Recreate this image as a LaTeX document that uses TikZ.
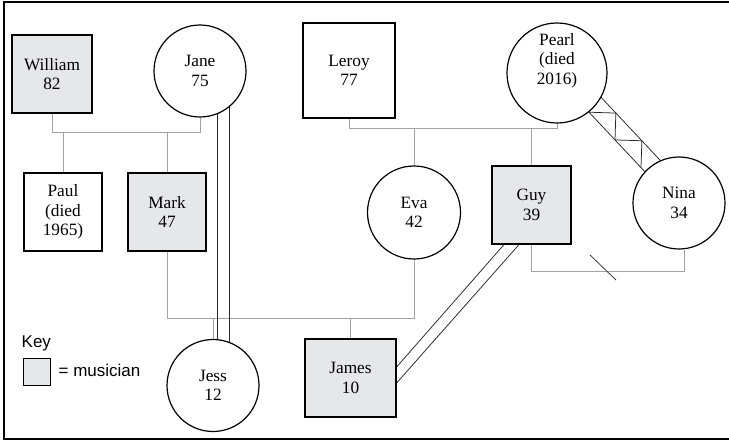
\documentclass[tikz,border=0pt]{standalone}
\usepackage{fontspec}
\setmainfont{Liberation Serif}
\newfontfamily\keyfont{Liberation Sans}
\usetikzlibrary{calc,backgrounds}
\definecolor{musicfill}{HTML}{E6E7E9}
\definecolor{kingray}{HTML}{A3A3A3}
\begin{document}
\begin{tikzpicture}[x=1pt,y=-1pt,
  person/.style={draw=black, line width=1.2pt, align=center, inner sep=0pt,
                 font=\fontsize{17.3}{19.6}\selectfont},
  square/.style={person, rectangle, fill=white},
  musician/.style={fill=musicfill},
  disc/.style={person, circle, fill=white, minimum size=92pt},
  kin/.style={draw=kingray, line width=0.8pt},
  bond/.style={draw=black!85, line width=0.75pt},
  keytext/.style={font=\keyfont\fontsize{17}{20}\selectfont, inner sep=0pt, anchor=base west},
]
\useasboundingbox (0,0) rectangle (729,441);
% frame, open on the right
\draw[line width=1.2pt] (731,2) -- (4,2) -- (4,439) -- (731,439);

% people
\node[square, musician, minimum width=80pt, minimum height=78pt] (William) at (52,74) {William\\82};
\node[disc] (Jane) at (200,71) {Jane\\75};
\node[square, minimum width=92pt, minimum height=95pt] (Leroy) at (349,70.5) {Leroy\\77};
\node[disc, minimum size=100pt] (Pearl) at (557,73) {};
\node[font=\fontsize{17.3}{19.6}\selectfont, align=center, inner sep=0pt] (PearlText)
  at ([yshift=12.5pt]Pearl.center) {Pearl\\(died\\2016)};
\node[square, minimum width=78pt, minimum height=78pt] (Paul) at (63,212) {Paul\\(died\\1965)};
\node[square, musician, minimum width=78pt, minimum height=78pt] (Mark) at (167,212) {Mark\\47};
\node[disc, minimum size=93pt] (Eva) at (414,212.5) {Eva\\42};
\node[square, musician, minimum width=79pt, minimum height=78pt] (Guy) at (531.5,205) {Guy\\39};
\node[disc] (Nina) at (679,203) {Nina\\34};
\node[disc] (Jess) at (213,385.5) {Jess\\12};
\node[square, musician, minimum width=91pt, minimum height=78pt] (James) at (350.5,378) {James\\10};

% key
\node[keytext] (KeyTitle) at (21.5,347) {Key};
\node[draw, line width=1.2pt, fill=musicfill, minimum size=27pt, inner sep=0pt] (KeySwatch) at (36.7,371.7) {};
\node[keytext] (KeyText) at (58.5,376.5) {= musician};

\begin{scope}[on background layer]
  % couple bars and child drops
  \coordinate (wjbar) at (0,132);
  \draw[kin] (William.south) -- (William.south |- wjbar) -- (Jane.south |- wjbar) -- (Jane.south);
  \draw[kin] (Paul.north |- wjbar) -- (Paul.north);
  \draw[kin] (Mark.north |- wjbar) -- (Mark.north);

  \coordinate (lpbar) at (0,128);
  \draw[kin] (Leroy.south) -- (Leroy.south |- lpbar) -- (Pearl.south |- lpbar) -- (Pearl.south);
  \draw[kin] (Eva.north |- lpbar) -- (Eva.north);
  \draw[kin] (Guy.north |- lpbar) -- (Guy.north);

  \coordinate (mebar) at (0,318);
  \draw[kin] (Mark.south) -- (Mark.south |- mebar) -- (Eva.south |- mebar) -- (Eva.south);
  \draw[kin] (Jess.north |- mebar) -- (Jess.north);
  \draw[kin] (James.north |- mebar) -- (James.north);

  \coordinate (gnbar) at (0,271);
  \draw[kin] (Guy.south) -- (Guy.south |- gnbar) -- ([xshift=5pt]Nina.south |- gnbar) -- ([xshift=5pt]Nina.south);

  % separation mark
  \coordinate (split) at (603,267.5);
  \draw[black!80, line width=0.75pt] ($(split)+(-13,-12.5)$) -- ($(split)+(13,12.5)$);

  % Jane -- Jess double line
  \draw[bond] ([xshift=17pt]Jane.center) -- ([xshift=17pt]Jane.center |- Jess.center);
  \draw[bond] ([xshift=29pt]Jane.center) -- ([xshift=29pt]Jane.center |- Jess.center);

  % Pearl -- Nina band with zigzag
  \draw[bond] ($(Pearl.center)!15.5pt!90:(Nina.center)$) -- ($(Nina.center)!15.5pt!-90:(Pearl.center)$);
  \draw[bond] ($(Pearl.center)!3.5pt!-90:(Nina.center)$) -- ($(Nina.center)!3.5pt!90:(Pearl.center)$);
  \draw[bond]
    ($(Pearl.center)!50.5pt!(Nina.center)!3.5pt!-90:(Nina.center)$) --
    ($(Pearl.center)!69.5pt!(Nina.center)!15.5pt!90:(Nina.center)$) --
    ($(Pearl.center)!88.5pt!(Nina.center)!3.5pt!-90:(Nina.center)$) --
    ($(Pearl.center)!107.5pt!(Nina.center)!15.5pt!90:(Nina.center)$) --
    ($(Pearl.center)!126.5pt!(Nina.center)!3.5pt!-90:(Nina.center)$);
\end{scope}

% Guy -- James double line
\draw[bond] ([xshift=-27.5pt]Guy.south) -- ([yshift=11pt]James.east);
\draw[bond] ([xshift=-12.5pt]Guy.south) -- ([yshift=-5pt]James.east);
\end{tikzpicture}
\end{document}
